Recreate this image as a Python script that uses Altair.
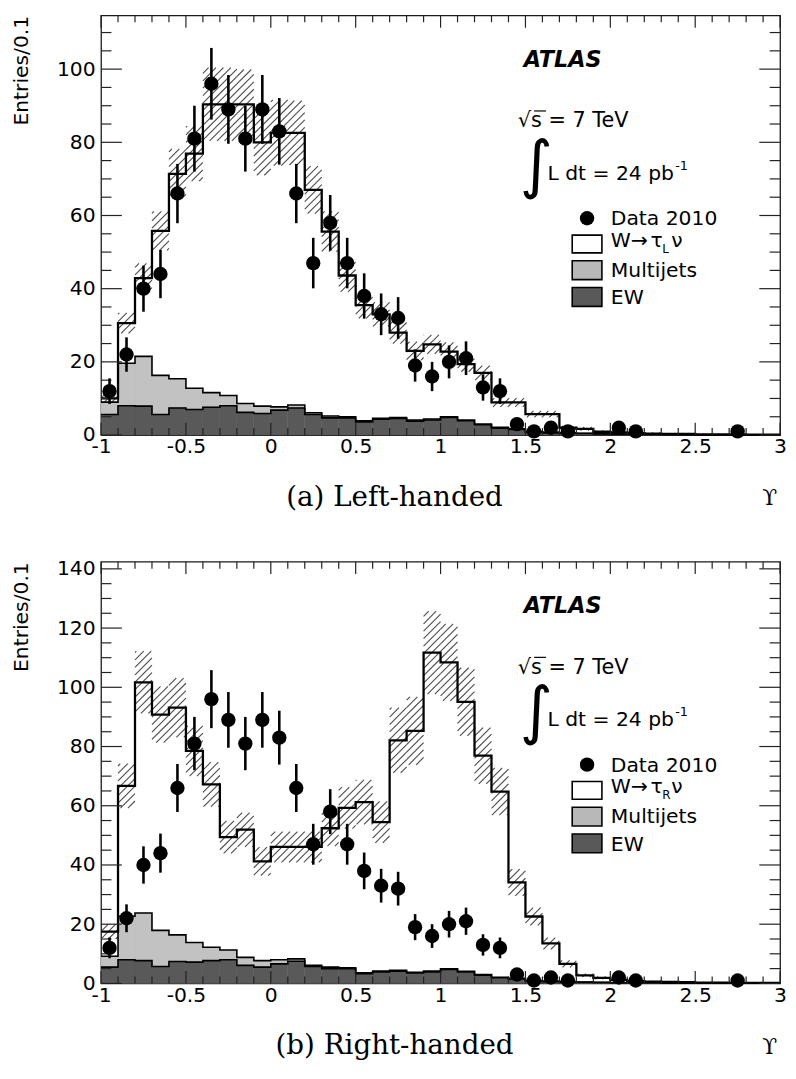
import math
import pandas as pd
import altair as alt

SANS = "DejaVu Sans"
SERIF = "DejaVu Serif"
FS = 20.5

# ---------------- data ----------------
BIN_LO = [-1.0, -0.9, -0.8, -0.7, -0.6, -0.5, -0.4, -0.3, -0.2, -0.1,
          0.0, 0.1, 0.2, 0.3, 0.4, 0.5, 0.6, 0.7, 0.8, 0.9,
          1.0, 1.1, 1.2, 1.3, 1.4, 1.5, 1.6, 1.7, 1.8, 1.9,
          2.0, 2.1, 2.2, 2.3, 2.4, 2.5, 2.6, 2.7, 2.8, 2.9]
BIN_W = 0.1
X_MIN, X_MAX = -1.0, 3.0

# total prediction (W + multijets + EW), left-handed hypothesis
TOT_LEFT = [10.0, 30.6, 42.9, 55.8, 71.4, 76.9, 90.4, 90.4, 90.4, 80.0,
            82.6, 82.6, 67.0, 55.6, 43.6, 35.5, 33.0, 28.0, 23.0, 24.8,
            22.8, 19.4, 17.0, 8.9, 8.9, 5.7, 5.7, 2.0, 1.7, 0.9,
            0.7, 0.5, 0.4, 0.3, 0.3, 0.2, 0.2, 0.2, 0.1, 0.1]
ERR_LEFT = [1.2, 2.8, 4.0, 5.3, 6.8, 7.5, 10.0, 10.0, 9.5, 9.0,
            9.0, 8.8, 6.5, 5.5, 4.5, 3.6, 3.3, 3.0, 2.5, 2.6,
            2.5, 2.1, 2.0, 1.2, 1.2, 0.9, 0.9, 0.5, 0.5, 0.4,
            0.3, 0.3, 0.3, 0.2, 0.2, 0.2, 0.2, 0.2, 0.1, 0.1]
MJ_LEFT = [3.4, 11.6, 13.6, 10.7, 8.0, 5.8, 4.0, 2.8, 2.4, 2.0,
           0.9, 0.8, 0.5, 0.5, 0.3, 0.3, 0.3, 0.3, 0.3, 0.3,
           0.2, 0.2, 0.2, 0.2, 0.2, 0.2, 0.2, 0.1, 0.1, 0.1,
           0.1, 0.1, 0.1, 0.1, 0.0, 0.0, 0.0, 0.0, 0.0, 0.0]
EW_LEFT = [5.6, 8.0, 7.9, 5.6, 7.4, 7.0, 7.6, 8.0, 6.2, 5.9,
           6.8, 7.4, 5.6, 4.7, 4.7, 3.6, 4.3, 4.5, 3.8, 4.1,
           4.8, 3.9, 2.8, 1.9, 1.5, 0.8, 0.6, 0.5, 0.4, 0.3,
           0.2, 0.2, 0.2, 0.1, 0.1, 0.1, 0.1, 0.1, 0.1, 0.1]

# total prediction, right-handed hypothesis
TOT_RIGHT = [17.5, 66.7, 101.7, 90.8, 93.1, 78.5, 67.2, 49.4, 51.9, 41.2,
             46.1, 46.1, 46.1, 52.4, 59.3, 61.2, 54.5, 82.1, 85.3, 111.7,
             108.4, 95.1, 76.9, 64.8, 34.1, 22.6, 13.5, 6.6, 2.7, 1.9,
             1.2, 0.8, 0.6, 0.5, 0.4, 0.3, 0.3, 0.2, 0.2, 0.2]
ERR_RIGHT = [2.5, 7.5, 10.5, 9.5, 10.0, 8.5, 7.5, 5.5, 5.8, 4.8,
             5.2, 5.2, 5.2, 6.0, 7.0, 7.5, 7.0, 11.0, 11.5, 14.0,
             13.0, 11.5, 9.5, 8.0, 4.5, 3.0, 2.0, 1.2, 0.6, 0.5,
             0.4, 0.3, 0.3, 0.3, 0.2, 0.2, 0.2, 0.2, 0.2, 0.2]
MJ_RIGHT = [3.7, 14.7, 16.1, 12.2, 9.0, 6.6, 4.5, 3.3, 2.7, 2.2,
            1.4, 0.8, 0.4, 0.5, 0.3, 0.3, 0.3, 0.3, 0.3, 0.3,
            0.2, 0.2, 0.2, 0.2, 0.2, 0.2, 0.2, 0.1, 0.1, 0.1,
            0.1, 0.1, 0.1, 0.1, 0.0, 0.0, 0.0, 0.0, 0.0, 0.0]
EW_RIGHT = [5.5, 8.0, 7.7, 5.7, 7.4, 7.2, 7.7, 8.0, 6.1, 5.5,
            6.6, 7.5, 5.7, 5.0, 5.0, 3.3, 3.9, 4.1, 3.5, 3.9,
            4.7, 3.9, 2.8, 1.9, 1.5, 0.8, 0.6, 0.5, 0.4, 0.3,
            0.2, 0.2, 0.2, 0.1, 0.1, 0.1, 0.1, 0.1, 0.1, 0.1]

# Data 2010 (same in both panels)
DATA_X = [-0.95, -0.85, -0.75, -0.65, -0.55, -0.45, -0.35, -0.25, -0.15, -0.05,
          0.05, 0.15, 0.25, 0.35, 0.45, 0.55, 0.65, 0.75, 0.85, 0.95,
          1.05, 1.15, 1.25, 1.35, 1.45, 1.55, 1.65, 1.75, 2.05, 2.15, 2.75]
DATA_N = [12, 22, 40, 44, 66, 81, 96, 89, 81, 89,
          83, 66, 47, 58, 47, 38, 33, 32, 19, 16,
          20, 21, 13, 12, 3, 1, 2, 1, 2, 1, 1]
DATA_ERR = [3.5, 4.7, 6.3, 6.6, 8.1, 9.0, 9.8, 9.4, 9.0, 9.4,
            9.1, 8.1, 6.9, 7.6, 6.9, 6.2, 5.7, 5.7, 4.4, 4.0,
            4.5, 4.6, 3.6, 3.5, 1.7, 1.0, 1.4, 1.0, 1.4, 1.0, 1.0]

X_LABELS = [-1, -0.5, 0, 0.5, 1, 1.5, 2, 2.5, 3]
Y_LABELS_A = [0, 20, 40, 60, 80, 100]
Y_LABELS_B = [0, 20, 40, 60, 80, 100, 120, 140]

# ---------------- layout constants ----------------
PW = 686
ONE = pd.DataFrame({"k": [0]})


def hatch_segments(tot, err, H, ymax, spacing=7.5):
    """Diagonal '/' hatch lines filling the band tot +- err of every bin."""
    kx = PW / (X_MAX - X_MIN)
    ky = H / ymax
    rows = []
    for x0, t, e in zip(BIN_LO, tot, err):
        lo = max(t - e, 0.0)
        hi = min(t + e, ymax)
        u0 = (x0 - X_MIN) * kx
        u1 = (x0 + BIN_W - X_MIN) * kx
        v0, v1 = lo * ky, hi * ky
        if v1 - v0 < 1.0:
            continue
        kmin = math.ceil((u0 - v1) / spacing)
        kmax = math.floor((u1 - v0) / spacing)
        for k in range(kmin, kmax + 1):
            c = k * spacing
            ua = max(u0, c + v0)
            ub = min(u1, c + v1)
            if ub - ua < 0.4:
                continue
            rows.append({"hx": X_MIN + ua / kx, "hx2": X_MIN + ub / kx,
                         "hy": (ua - c) / ky, "hy2": (ub - c) / ky})
    return pd.DataFrame(rows)


def txt(s, x, y, size=FS, font=SANS, weight="normal", style="normal",
        align="left", baseline="alphabetic"):
    return alt.Chart(ONE).mark_text(
        text=s, font=font, fontSize=size, fontWeight=weight, fontStyle=style,
        align=align, baseline=baseline, color="black"
    ).encode(x=alt.value(x), y=alt.value(y))


def box(x, x2, y, y2, fill):
    return alt.Chart(ONE).mark_rect(fill=fill, stroke="black", strokeWidth=1.6).encode(
        x=alt.value(x), x2=alt.value(x2), y=alt.value(y), y2=alt.value(y2))


def make_panel(tot, err, mj, ew, ymax, H, ymajor, caption, sub):
    xs = alt.Scale(domain=[X_MIN, X_MAX], nice=False, zero=False)
    ys = alt.Scale(domain=[0, ymax], nice=False, zero=False)
    xaxis = alt.Axis(values=X_LABELS, labelExpr="'' + datum.value", ticks=False,
                     domain=False, grid=False, labelFont=SANS, labelFontSize=FS,
                     labelColor="black", labelPadding=2, labelFlush=False,
                     title=caption, titleFont=SERIF, titleFontSize=28,
                     titleFontWeight="normal", titleColor="black",
                     titleX=296, titleY=71, titleBaseline="alphabetic",
                     titleAlign="center")
    yaxis = alt.Axis(values=ymajor, ticks=False, domain=False, grid=False,
                     labelFont=SANS, labelFontSize=FS, labelColor="black",
                     labelPadding=6, title="Entries/0.1", titleFont=SANS,
                     titleFontSize=FS, titleFontWeight="normal", titleColor="black",
                     titleAngle=270, titleX=-80, titleY=0, titleAlign="right",
                     titleBaseline="middle")

    def X(f):
        return alt.X(f, type="quantitative", scale=xs, axis=xaxis)

    def Y(f):
        return alt.Y(f, type="quantitative", scale=ys, axis=yaxis)

    bins = pd.DataFrame({"lo": BIN_LO, "tot": tot, "err": err, "mj": mj, "ew": ew})
    bins["hi"] = bins["lo"] + BIN_W
    bins["zero"] = 0.0
    bins["top"] = bins["ew"] + bins["mj"]

    steps = pd.DataFrame({
        "sx": BIN_LO + [X_MAX],
        "stot": list(tot) + [tot[-1]],
        "sew": list(ew) + [ew[-1]],
        "stop": list(bins["top"]) + [bins["top"].iloc[-1]],
    })

    hatch = hatch_segments(tot, err, H, ymax)
    data = pd.DataFrame({"dx": DATA_X, "dn": DATA_N, "de": DATA_ERR})
    data["dlo"] = data["dn"] - data["de"]
    data["dhi"] = data["dn"] + data["de"]

    minor_x = [round(X_MIN + 0.1 * i, 1) for i in range(41)]
    xt_major = pd.DataFrame({"t": X_LABELS})
    xt_minor = pd.DataFrame({"t": [v for v in minor_x if round(v * 2, 6) != round(round(v * 2), 6)]})
    minor_y = [5 * i for i in range(int(ymax // 5) + 1)]
    yt_major = pd.DataFrame({"t": [v for v in minor_y if v % 20 == 0]})
    yt_minor = pd.DataFrame({"t": [v for v in minor_y if v % 20 != 0]})

    tick_col = "#222222"
    layers = [
        alt.Chart(bins).mark_rect(fill="#c2c2c2", stroke="#c2c2c2", strokeWidth=0.5).encode(
            x=X("lo"), x2=alt.X2("hi"), y=Y("ew"), y2=alt.Y2("top")),
        alt.Chart(bins).mark_rect(fill="#595959", stroke="#595959", strokeWidth=0.5).encode(
            x=X("lo"), x2=alt.X2("hi"), y=Y("zero"), y2=alt.Y2("ew")),
        alt.Chart(hatch).mark_rule(color="#4a4a4a", strokeWidth=1.1, clip=True).encode(
            x=X("hx"), x2=alt.X2("hx2"), y=Y("hy"), y2=alt.Y2("hy2")),
        alt.Chart(steps).mark_line(interpolate="step-after", color="black", strokeWidth=1.6).encode(
            x=X("sx"), y=Y("stop")),
        alt.Chart(steps).mark_line(interpolate="step-after", color="black", strokeWidth=1.6).encode(
            x=X("sx"), y=Y("sew")),
        alt.Chart(steps).mark_line(interpolate="step-after", color="black", strokeWidth=2.3).encode(
            x=X("sx"), y=Y("stot")),
        # inward ticks on all four sides
        alt.Chart(xt_major).mark_rule(color=tick_col, strokeWidth=1.2).encode(
            x=X("t"), y=alt.value(H), y2=alt.value(H - 12.5)),
        alt.Chart(xt_minor).mark_rule(color=tick_col, strokeWidth=1.2).encode(
            x=X("t"), y=alt.value(H), y2=alt.value(H - 7)),
        alt.Chart(xt_major).mark_rule(color=tick_col, strokeWidth=1.2).encode(
            x=X("t"), y=alt.value(0), y2=alt.value(12.5)),
        alt.Chart(xt_minor).mark_rule(color=tick_col, strokeWidth=1.2).encode(
            x=X("t"), y=alt.value(0), y2=alt.value(7)),
        alt.Chart(yt_major).mark_rule(color=tick_col, strokeWidth=1.2).encode(
            y=Y("t"), x=alt.value(0), x2=alt.value(21)),
        alt.Chart(yt_minor).mark_rule(color=tick_col, strokeWidth=1.2).encode(
            y=Y("t"), x=alt.value(0), x2=alt.value(10.5)),
        alt.Chart(yt_major).mark_rule(color=tick_col, strokeWidth=1.2).encode(
            y=Y("t"), x=alt.value(PW), x2=alt.value(PW - 21)),
        alt.Chart(yt_minor).mark_rule(color=tick_col, strokeWidth=1.2).encode(
            y=Y("t"), x=alt.value(PW), x2=alt.value(PW - 10.5)),
        # data points
        alt.Chart(data).mark_rule(color="black", strokeWidth=2.6).encode(
            x=X("dx"), y=Y("dlo"), y2=alt.Y2("dhi")),
        alt.Chart(data).mark_point(filled=True, shape="circle", size=210, color="black", opacity=1).encode(
            x=X("dx"), y=Y("dn")),
        # labels
        txt("ATLAS", 427, 52, size=22.5, weight="bold", style="italic"),
        txt("\u221as = 7 TeV", 421, 113, size=21),
        alt.Chart(ONE).mark_rule(color="black", strokeWidth=1.2).encode(
            x=alt.value(437.5), x2=alt.value(449.5), y=alt.value(96.6)),
        txt("\u222b", 423, 172, size=64),
        txt("L dt = 24 pb", 451, 166, size=FS),
        txt("-1", 580, 156, size=13),
        # legend
        alt.Chart(ONE).mark_point(filled=True, shape="circle", size=210, color="black", opacity=1).encode(
            x=alt.value(491), y=alt.value(205)),
        txt("Data 2010", 515, 212),
        box(476, 506, 222, 240, "white"),
        txt("W\u2192", 515, 234),
        txt("\u03c4", 555, 234),
        txt(sub, 567, 240, size=12),
        txt("\u03bd", 576, 234),
        box(476, 506, 248, 267, "#b8b8b8"),
        txt("Multijets", 515, 264),
        box(476, 506, 275, 294, "#595959"),
        txt("EW", 515, 292),
        txt("\u03d2", PW - 3, H + 71, size=22, font=SERIF, align="right"),
    ]
    return alt.layer(*layers).properties(width=PW, height=H)


top = make_panel(TOT_LEFT, ERR_LEFT, MJ_LEFT, EW_LEFT, 114.7, 424, Y_LABELS_A,
                 "(a) Left-handed", "L")
bottom = make_panel(TOT_RIGHT, ERR_RIGHT, MJ_RIGHT, EW_RIGHT, 142.4, 426, Y_LABELS_B,
                    "(b) Right-handed", "R")

chart = alt.vconcat(top, bottom, spacing=46,
                    padding={"left": 3, "top": 0, "right": 0, "bottom": 0}).configure(
    font=SANS, background="white"
).configure_view(stroke="#1a1a1a", strokeWidth=1.3)

chart.save("out.html", embed_options={"renderer": "svg", "actions": False})
